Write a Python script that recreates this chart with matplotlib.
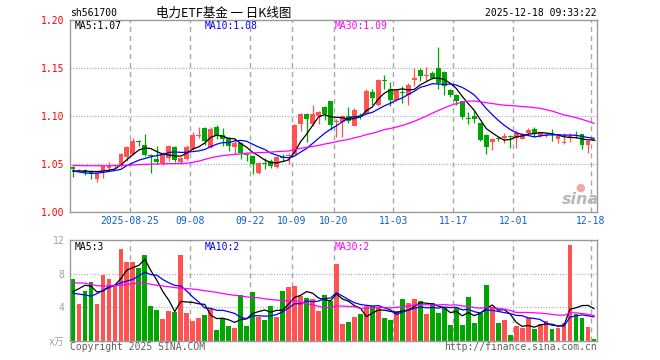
import matplotlib
matplotlib.use('Agg')
import matplotlib.pyplot as plt
import numpy as np
import pandas as pd

W, H = 660, 360

opens = [1.0470, 1.0427, 1.0437, 1.0424, 1.0343, 1.0420, 1.0458, 1.0472, 1.0480, 1.0568,
         1.0605, 1.0740, 1.0700, 1.0590, 1.0553, 1.0505, 1.0560, 1.0680, 1.0522, 1.0555,
         1.0652, 1.0790, 1.0876, 1.0672, 1.0885, 1.0804, 1.0772, 1.0680, 1.0712, 1.0605,
         1.0585, 1.0402, 1.0505, 1.0526, 1.0470, 1.0574, 1.0580, 1.0605, 1.0915, 1.1020,
         1.0915, 1.0997, 1.1090, 1.1152, 1.0935, 1.0937, 1.0997, 1.0892, 1.1012, 1.1021,
         1.1250, 1.1111, 1.1370, 1.1280, 1.1165, 1.1245, 1.1222, 1.1371, 1.1476, 1.1415,
         1.1452, 1.1500, 1.1458, 1.1274, 1.1222, 1.1153, 1.0972, 1.0997, 1.0927, 1.0800,
         1.0729, 1.0762, 1.0764, 1.0783, 1.0771, 1.0760, 1.0823, 1.0864, 1.0788, 1.0790,
         1.0767, 1.0754, 1.0712, 1.0771, 1.0795, 1.0806, 1.0695, 1.0738]
highs = [1.0482, 1.0442, 1.0444, 1.0430, 1.0402, 1.0480, 1.0515, 1.0500, 1.0612, 1.0685,
         1.0765, 1.0750, 1.0815, 1.0600, 1.0690, 1.0620, 1.0700, 1.0690, 1.0570, 1.0700,
         1.0830, 1.0880, 1.0885, 1.0880, 1.0905, 1.0870, 1.0780, 1.0770, 1.0730, 1.0612,
         1.0592, 1.0515, 1.0556, 1.0545, 1.0582, 1.0605, 1.0614, 1.0915, 1.1030, 1.1025,
         1.1118, 1.1050, 1.1100, 1.1160, 1.0965, 1.1010, 1.1090, 1.1080, 1.1030, 1.1275,
         1.1285, 1.1380, 1.1430, 1.1350, 1.1280, 1.1310, 1.1340, 1.1500, 1.1500, 1.1505,
         1.1470, 1.1719, 1.1465, 1.1280, 1.1230, 1.1160, 1.1038, 1.1050, 1.0930, 1.0815,
         1.0770, 1.0780, 1.0816, 1.0795, 1.0857, 1.0820, 1.0870, 1.0885, 1.0835, 1.0816,
         1.0868, 1.0795, 1.0816, 1.0816, 1.0847, 1.0810, 1.0740, 1.0740]
lows = [1.0365, 1.0422, 1.0385, 1.0340, 1.0310, 1.0353, 1.0430, 1.0455, 1.0470, 1.0530,
        1.0595, 1.0684, 1.0582, 1.0406, 1.0495, 1.0490, 1.0530, 1.0520, 1.0497, 1.0540,
        1.0640, 1.0770, 1.0700, 1.0660, 1.0760, 1.0690, 1.0630, 1.0605, 1.0548, 1.0527,
        1.0398, 1.0398, 1.0445, 1.0455, 1.0460, 1.0530, 1.0500, 1.0595, 1.0840, 1.0729,
        1.0890, 1.0910, 1.0960, 1.0857, 1.0777, 1.0777, 1.0930, 1.0890, 1.0970, 1.1015,
        1.1118, 1.1100, 1.1280, 1.1100, 1.1150, 1.1135, 1.1110, 1.1316, 1.1361, 1.1360,
        1.1380, 1.1275, 1.1222, 1.1200, 1.1108, 1.0962, 1.0910, 1.0930, 1.0736, 1.0607,
        1.0642, 1.0740, 1.0720, 1.0666, 1.0666, 1.0755, 1.0815, 1.0775, 1.0775, 1.0775,
        1.0740, 1.0713, 1.0705, 1.0730, 1.0770, 1.0657, 1.0608, 1.0733]
closes = [1.0447, 1.0437, 1.0419, 1.0392, 1.0399, 1.0472, 1.0482, 1.0482, 1.0607, 1.0672,
          1.0733, 1.0722, 1.0588, 1.0577, 1.0517, 1.0598, 1.0682, 1.0538, 1.0562, 1.0680,
          1.0805, 1.0800, 1.0735, 1.0860, 1.0788, 1.0758, 1.0685, 1.0712, 1.0615, 1.0592,
          1.0493, 1.0505, 1.0496, 1.0476, 1.0575, 1.0565, 1.0590, 1.0900, 1.1020, 1.0970,
          1.1015, 1.1038, 1.1021, 1.0909, 1.0940, 1.0997, 1.0951, 1.1066, 1.1002, 1.1257,
          1.1188, 1.1375, 1.1362, 1.1170, 1.1265, 1.1235, 1.1318, 1.1393, 1.1413, 1.1425,
          1.1400, 1.1344, 1.1310, 1.1222, 1.1153, 1.0986, 1.0966, 1.0962, 1.0743, 1.0680,
          1.0763, 1.0758, 1.0788, 1.0779, 1.0816, 1.0806, 1.0857, 1.0816, 1.0830, 1.0795,
          1.0764, 1.0788, 1.0732, 1.0792, 1.0790, 1.0695, 1.0735, 1.0735]
volumes = [7.35, 4.37, 5.92, 6.99, 4.37, 7.83, 7.35, 6.52, 10.93, 9.38,
           9.38, 8.66, 10.21, 4.13, 3.65, 2.58, 3.53, 3.41, 10.21, 3.29,
           2.34, 2.70, 3.05, 3.77, 1.26, 2.58, 1.74, 1.50, 5.44, 1.74,
           5.80, 2.82, 2.46, 4.13, 2.82, 5.92, 6.40, 6.52, 5.32, 5.08,
           4.96, 3.53, 5.44, 4.72, 9.14, 1.98, 2.22, 2.82, 3.17, 4.13,
           4.13, 4.00, 2.70, 2.46, 3.53, 4.96, 4.49, 4.96, 4.72, 3.17,
           4.49, 3.29, 3.89, 1.86, 3.89, 1.86, 5.20, 2.10, 3.29, 6.64,
           4.00, 2.10, 2.46, 0.67, 1.74, 1.50, 2.70, 1.38, 1.98, 2.34,
           1.38, 1.50, 2.10, 11.41, 3.17, 2.70, 1.62, 0.19]

# moving averages before enough days are in the window
ma5_head = [1.0425, 1.0425, 1.0423, 1.0420]
ma10_head = [1.0423, 1.0415, 1.0405, 1.0400, 1.0403, 1.0410, 1.0420, 1.0430, 1.0442]
ma30_head = [1.0482, 1.0481, 1.0480, 1.0480, 1.0479, 1.0479, 1.0480, 1.0481, 1.0483, 1.0485,
             1.0488, 1.0491, 1.0494, 1.0496, 1.0498, 1.0500, 1.0501, 1.0502, 1.0503, 1.0506,
             1.0515, 1.0528, 1.0545, 1.0562, 1.0575, 1.0585, 1.0592, 1.0598, 1.0603]
vma5_head = [5.84, 6.20, 6.60, 6.50]
vma10_head = [5.64, 5.55, 5.44, 5.30, 5.60, 6.00, 6.30, 6.60, 6.90]
vma30_head = [6.90, 6.88, 6.85, 6.70, 6.55, 6.52, 6.52, 6.55, 6.62, 6.70,
              6.78, 6.87, 6.85, 6.72, 6.60, 6.52, 6.42, 6.32, 6.25, 6.20,
              6.15, 6.06, 5.95, 5.85, 5.75, 5.62, 5.50, 5.40, 5.32]

date_pos = [10, 20, 30, 37, 44, 54, 64, 74, 87]
date_labels = ['2025-08-25', '09-08', '09-22', '10-09', '10-20', '11-03', '11-17', '12-01', '12-18']


def moving(values, n, head):
    m = pd.Series(values).rolling(n).mean().to_numpy()
    m[:n - 1] = head
    return m


RED = '#ff5252'
GREEN = '#00a600'
GRID = '#a8a8a8'
FRAME = '#9a9a9a'
MONO = 'DejaVu Sans Mono'

x = np.arange(len(closes))
o = np.array(opens)
c = np.array(closes)
cols = np.where(c >= o, RED, GREEN)

fig = plt.figure(figsize=(W / 100, H / 100), dpi=100)
ax = fig.add_axes([70 / W, 1 - 211.7 / H, 527 / W, 191.7 / H])
ax2 = fig.add_axes([70 / W, 1 - 340.6 / H, 527 / W, 100.6 / H])


def frame(a):
    for s in a.spines.values():
        s.set_color(FRAME)
        s.set_linewidth(1.0)
    a.set_xlim(-0.5, len(closes) - 0.5)
    a.tick_params(length=0)
    for p in date_pos:
        a.axvline(p - 0.5, color=GRID, lw=1.0, dashes=(3.6, 2.9), zorder=0)


frame(ax)
frame(ax2)

# price panel
ax.vlines(x, lows, highs, colors=cols, lw=0.9, zorder=2)
body = np.maximum(np.abs(c - o), 0.0010)
ax.bar(x, body, bottom=np.minimum(o, c), width=0.8, color=cols, linewidth=0, zorder=3)
ax.plot(x, moving(closes, 5, ma5_head), color='black', lw=0.9, zorder=4)
ax.plot(x, moving(closes, 10, ma10_head), color='#0000ff', lw=0.9, zorder=4)
ax.plot(x, moving(closes, 30, ma30_head), color='#ff00ff', lw=0.9, zorder=4)
ax.set_ylim(1.00, 1.20)
for v in [1.05, 1.10, 1.15]:
    ax.axhline(v, color=GRID, lw=0.9, dashes=(0.8, 1.4), zorder=0)
ax.set_yticks([1.00, 1.05, 1.10, 1.15, 1.20])
ax.set_yticklabels(['1.00', '1.05', '1.10', '1.15', '1.20'], color='#ff0000',
                   family=MONO, fontsize=7)
ax.tick_params(axis='y', pad=4)
ax.set_xticks([p - 0.5 for p in date_pos])
ax.set_xticklabels(date_labels, color='#0a5fd0', family=MONO, fontsize=7)
ax.tick_params(axis='x', pad=3)

# volume panel
ax2.bar(x, volumes, width=0.8, color=cols, linewidth=0, zorder=2)
ax2.plot(x, moving(volumes, 5, vma5_head), color='black', lw=0.9, zorder=4)
ax2.plot(x, moving(volumes, 10, vma10_head), color='#0000ff', lw=0.9, zorder=4)
ax2.plot(x, moving(volumes, 30, vma30_head), color='#ff00ff', lw=0.9, zorder=4)
ax2.set_ylim(0, 12)
for v in [4, 8]:
    ax2.axhline(v, color=GRID, lw=0.9, dashes=(0.8, 1.4), zorder=0)
ax2.set_xticks([])
ax2.set_yticks([0, 4, 8, 12])
ax2.set_yticklabels(['x万', '4', '8', '12'], color='#a0a0a0',
                    family=[MONO, 'Noto Sans CJK SC'], fontsize=7)
ax2.tick_params(axis='y', pad=4)


def ftxt(px, py, s, **kw):
    fig.text(px / W, 1 - py / H, s, va='center', **kw)


ftxt(70, 13.5, 'sh561700', family=MONO, fontsize=7, color='black')
ftxt(224, 13, '电力ETF基金 一 日K线图', family=['Noto Sans CJK SC', 'DejaVu Sans'],
     fontsize=9, color='black', ha='center')
ftxt(597, 13.5, '2025-12-18 09:33:22', family=MONO, fontsize=7, color='black', ha='right')

ftxt(75, 26, 'MA5:1.07', family=MONO, fontsize=7, color='black')
ftxt(205, 26, 'MA10:1.08', family=MONO, fontsize=7, color='#0000ff')
ftxt(335, 26, 'MA30:1.09', family=MONO, fontsize=7, color='#ff00ff')

ftxt(75, 247, 'MA5:3', family=MONO, fontsize=7, color='black')
ftxt(205, 247, 'MA10:2', family=MONO, fontsize=7, color='#0000ff')
ftxt(335, 247, 'MA30:2', family=MONO, fontsize=7, color='#ff00ff')

ftxt(70, 347, 'Copyright 2025 SINA.COM', family=MONO, fontsize=7, color='#606060')
ftxt(597, 347, 'http://finance.sina.com.cn', family=MONO, fontsize=7, color='#606060', ha='right')

# sina watermark
ftxt(580, 200, 'sina', family='DejaVu Sans', fontsize=11.5, fontweight='bold',
     style='italic', color='#b8b8b8', ha='center')
ftxt(580, 188, '●', family='DejaVu Sans', fontsize=8, color='#f2a8a8', ha='center')

fig.savefig('out.png', dpi=100)
